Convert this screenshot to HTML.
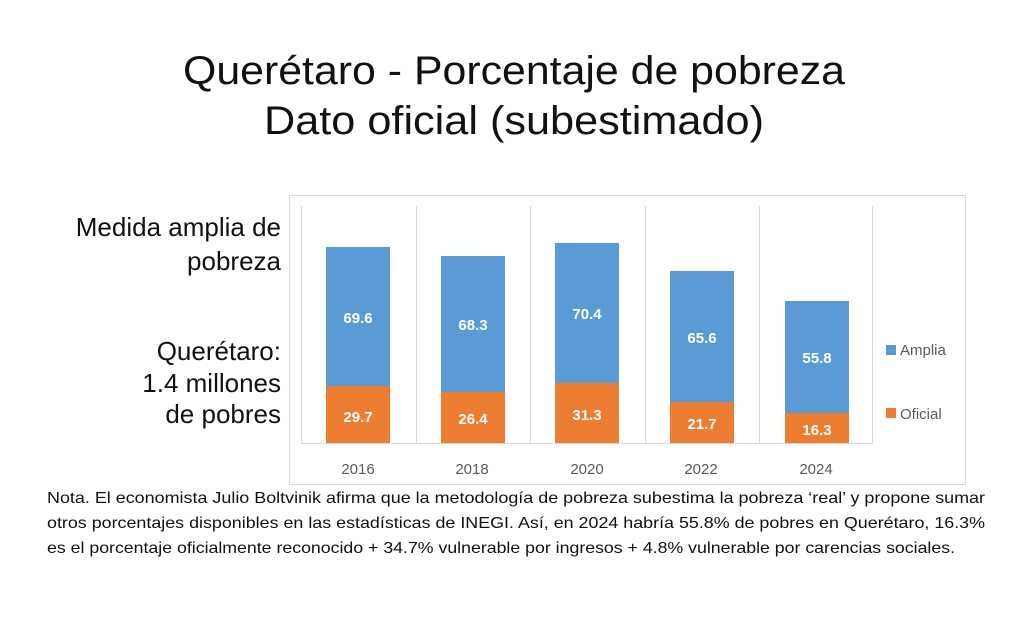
<!DOCTYPE html>
<html><head><meta charset="utf-8"><style>
body{margin:0;background:#fff;}
svg{display:block;font-family:"Liberation Sans",sans-serif;}
</style></head><body>
<svg width="1024" height="618" viewBox="0 0 1024 618">
<rect width="1024" height="618" fill="#fff"/>
<g font-size="40" fill="#111" text-anchor="middle">
<text x="514" y="84" textLength="662" lengthAdjust="spacingAndGlyphs">Querétaro - Porcentaje de pobreza</text>
<text x="514" y="134" textLength="500" lengthAdjust="spacingAndGlyphs">Dato oficial (subestimado)</text>
</g>
<g font-size="26" fill="#111" text-anchor="end">
<text x="281" y="236">Medida amplia de</text>
<text x="281" y="270">pobreza</text>
<text x="281" y="360">Querétaro:</text>
<text x="281" y="392">1.4 millones</text>
<text x="281" y="423">de pobres</text>
</g>
<rect x="289.5" y="195.5" width="676" height="289" fill="#fff" stroke="#d9d9d9"/>
<g stroke="#d9d9d9" stroke-width="1">
<line x1="301.5" y1="206" x2="301.5" y2="443"/>
<line x1="416.5" y1="206" x2="416.5" y2="443"/>
<line x1="530.5" y1="206" x2="530.5" y2="443"/>
<line x1="645.5" y1="206" x2="645.5" y2="443"/>
<line x1="759.5" y1="206" x2="759.5" y2="443"/>
<line x1="872.5" y1="206" x2="872.5" y2="443"/>
<line x1="301" y1="443.5" x2="873" y2="443.5"/>
</g>
<g fill="#5b9bd5">
<rect x="326" y="247" width="64" height="139"/>
<rect x="441" y="256" width="64" height="136"/>
<rect x="555" y="243" width="64" height="140"/>
<rect x="670" y="271" width="64" height="131"/>
<rect x="785" y="301" width="64" height="112"/>
</g>
<g fill="#ed7d31">
<rect x="326" y="386" width="64" height="57"/>
<rect x="441" y="392" width="64" height="51"/>
<rect x="555" y="383" width="64" height="60"/>
<rect x="670" y="402" width="64" height="41"/>
<rect x="785" y="413" width="64" height="30"/>
</g>
<g font-size="15" font-weight="bold" fill="#fff" text-anchor="middle">
<text x="358" y="323">69.6</text>
<text x="473" y="330">68.3</text>
<text x="587" y="319">70.4</text>
<text x="702" y="343">65.6</text>
<text x="817" y="363">55.8</text>
<text x="358" y="422">29.7</text>
<text x="473" y="424">26.4</text>
<text x="587" y="420">31.3</text>
<text x="702" y="429">21.7</text>
<text x="817" y="435">16.3</text>
</g>
<g font-size="15" fill="#595959" text-anchor="middle">
<text x="358" y="474">2016</text>
<text x="472" y="474">2018</text>
<text x="587" y="474">2020</text>
<text x="701" y="474">2022</text>
<text x="816" y="474">2024</text>
</g>
<rect x="886" y="345" width="10" height="10" fill="#5b9bd5"/>
<rect x="886" y="408" width="10" height="10" fill="#ed7d31"/>
<g font-size="15" fill="#595959">
<text x="900" y="355">Amplia</text>
<text x="900" y="419">Oficial</text>
</g>
<g font-size="16" fill="#111">
<text x="47" y="503" textLength="938" lengthAdjust="spacingAndGlyphs">Nota. El economista Julio Boltvinik afirma que la metodología de pobreza subestima la pobreza ‘real’ y propone sumar</text>
<text x="47" y="528" textLength="938" lengthAdjust="spacingAndGlyphs">otros porcentajes disponibles en las estadísticas de INEGI. Así, en 2024 habría 55.8% de pobres en Querétaro, 16.3%</text>
<text x="47" y="553" textLength="908" lengthAdjust="spacingAndGlyphs">es el porcentaje oficialmente reconocido + 34.7% vulnerable por ingresos + 4.8% vulnerable por carencias sociales.</text>
</g>
</svg>
</body></html>
